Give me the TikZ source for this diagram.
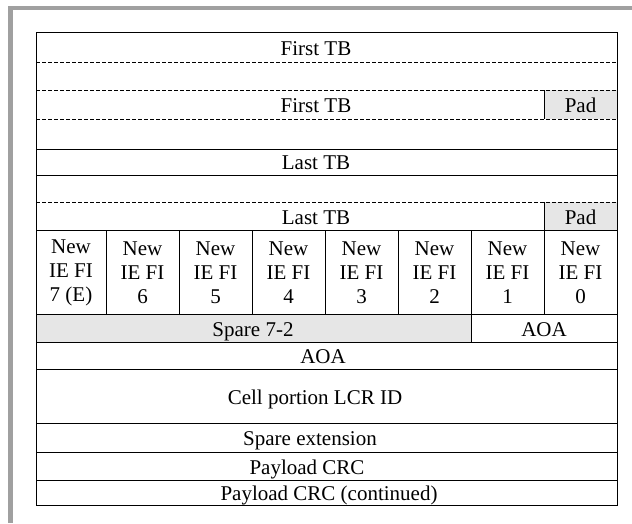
\documentclass[tikz,border=0pt]{standalone}
\usepackage{fontspec}
\setmainfont{Liberation Serif}
\usepackage{tikz}
\usetikzlibrary{calc}
\definecolor{framegray}{HTML}{A0A0A0}
\definecolor{padgray}{HTML}{E6E6E6}
\newcommand{\solidrule}[1]{\draw[tabline] ( 36 , #1 ) -- ( 617 , #1 );}
\newcommand{\dashrule}[1]{\draw[tabline,dash pattern=on 4pt off 2pt] ( 36 , #1 ) -- ( 617 , #1 );}
\newcommand{\shadecell}[4]{\fill[padgray] ( #1 , #2 ) rectangle ( #3 , #4 );}
\tikzset{
  tabline/.style={line width=1pt},
  lbl/.style={inner sep=0pt, text height=13.9pt, text depth=0pt},
}

\begin{document}
\begin{tikzpicture}[x=1pt, y=-1pt, font=\fontsize{21}{24}\selectfont]
        \useasboundingbox (0,0) rectangle (632,523);
        % grey frame
        \fill[framegray] (8,6) rectangle (632,10);
        \fill[framegray] (8,6) rectangle (13,523);
        % shaded fields
        \shadecell{544}{90}{617}{119}
        \shadecell{544}{202}{617}{230}
        \shadecell{36}{314}{471}{342}
        % rules
        \dashrule{62}
        \dashrule{90}
        \dashrule{119}
        \solidrule{149}
        \solidrule{175}
        \dashrule{202}
        \solidrule{230}
        \solidrule{314}
        \solidrule{342}
        \solidrule{369}
        \solidrule{423}
        \solidrule{452}
        \solidrule{480}
        % short vertical rules
        \draw[tabline] (544,90) -- (544,119);
        \draw[tabline] (544,202) -- (544,230);
        \foreach \x in {106,179,252,325,398,471,544}
            \draw[tabline] (\x,230) -- (\x,314);
        \draw[tabline] (471,314) -- (471,342);
        % outline
        \draw[tabline] (36,32) rectangle (617,505);
        % labels
        \node[lbl] (tb1) at (316,48.5) {First TB};
        \node[lbl] (tb2) at (316,105.5) {First TB};
        \node[lbl] (pad1) at (580.5,105.5) {Pad};
        \node[lbl] (tb3) at (316,163) {Last TB};
        \node[lbl] (tb4) at (316,218) {Last TB};
        \node[lbl] (pad2) at (580.5,218) {Pad};
        \foreach \x/\n [count=\i] in {71/{7 (E)},142.5/6,215.5/5,288.5/4,361.5/3,434.5/2,507.5/1,580.5/0}
            \node[inner sep=0pt, align=center] (fi\i) at (\x,273) {New\\IE FI\\\n};
        \node[lbl] (spare) at (253,329.5) {Spare 7-2};
        \node[lbl] (aoa1) at (544,329.5) {AOA};
        \node[lbl] (aoa2) at (323,357) {AOA};
        \node[lbl] (lcr) at (315,398) {Cell portion LCR ID};
        \node[lbl] (ext) at (310,439) {Spare extension};
        \node[lbl] (crc1) at (307,467.5) {Payload CRC};
        \node[lbl] (crc2) at (329,494) {Payload CRC (continued)};
    \end{tikzpicture}
\end{document}
